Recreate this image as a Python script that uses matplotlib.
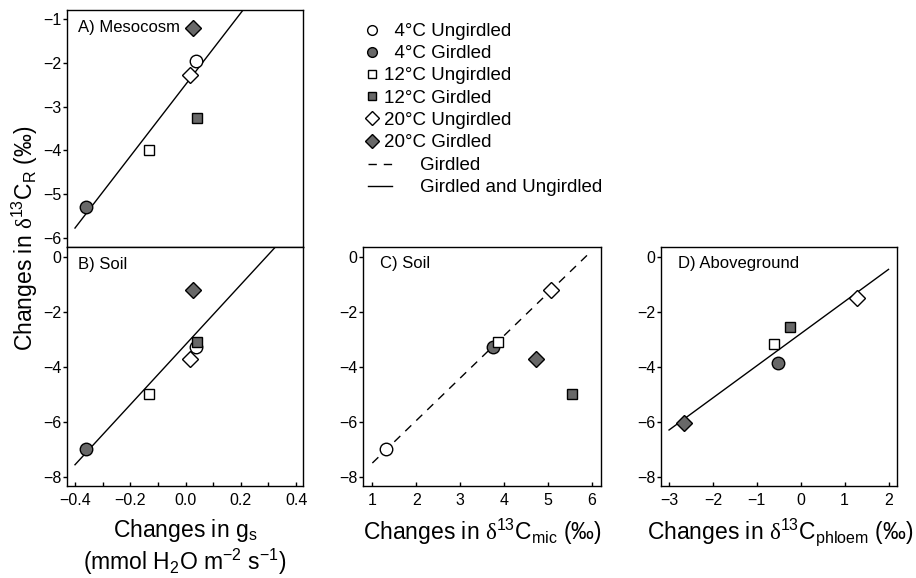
import numpy as np
import matplotlib
matplotlib.use('Agg')
import matplotlib.pyplot as plt
from matplotlib.lines import Line2D
from matplotlib.ticker import MultipleLocator, FuncFormatter

plt.rcParams['font.family'] = ['Liberation Sans', 'DejaVu Sans']
plt.rcParams['mathtext.fontset'] = 'custom'
plt.rcParams['mathtext.rm'] = 'Liberation Sans'
plt.rcParams['mathtext.it'] = 'Liberation Sans:italic'
plt.rcParams['mathtext.sf'] = 'Liberation Serif'

# treatments (same order in every panel)
treatments = ['  4°C Ungirdled', '  4°C Girdled', '12°C Ungirdled', '12°C Girdled',
              '20°C Ungirdled', '20°C Girdled']
markers = ['o', 'o', 's', 's', 'D', 'D']
girdled = [False, True, False, True, False, True]

# A and B: changes in g_s vs changes in d13C_R
gs_change = [0.038, -0.36, -0.131, 0.041, 0.017, 0.026]
dR_meso = [-1.96, -5.28, -3.98, -3.25, -2.28, -1.21]
dR_soil = [-3.30, -7.00, -4.99, -3.09, -3.73, -1.21]

# C: changes in d13C_mic vs changes in d13C_R (soil)
dmic_change = [1.31, 3.76, 3.87, 5.56, 5.06, 4.74]
dR_soil_c = [-7.00, -3.30, -3.09, -4.99, -1.21, -3.73]

# D: changes in d13C_phloem vs changes in d13C_R (aboveground), no 4°C ungirdled
dphloem_change = [np.nan, -0.51, -0.60, -0.24, 1.29, -2.66]
dR_above = [np.nan, -3.85, -3.17, -2.57, -1.51, -6.04]

# regression lines (slope, intercept, x range)
fit_a = (8.17, -2.50, (-0.4, 0.4))
fit_b = (10.92, -3.20, (-0.4, 0.4))
fit_c = (1.544, -9.05, (1.0, 6.0))
fit_d = (1.168, -2.80, (-3.0, 2.0))

GREY = '#686868'
W, H = 916, 578
ms_plot = {'o': 9, 's': 7.3, 'D': 7.8}
ms_leg = {'o': 7, 's': 6, 'D': 7}

fig = plt.figure(figsize=(W / 100, H / 100), dpi=100)


def px_axes(x0, y0, x1, y1):
    return fig.add_axes([x0 / W, 1 - y1 / H, (x1 - x0) / W, (y1 - y0) / H])


def minus(v, pos, fmt='{:g}'):
    return fmt.format(v).replace('-', '\u2212')


axA = px_axes(66.7, 10, 303.3, 247)
axB = px_axes(66.7, 247, 303.3, 485.7)
axC = px_axes(362.7, 247, 601, 485.7)
axD = px_axes(660.7, 247, 897.3, 485.7)


def draw(ax, xs, ys, fit, ls='-'):
    b, a, (x0, x1) = fit
    xl = np.array([x0, x1])
    ax.plot(xl, a + b * xl, color='black', lw=1.0, ls=ls,
            dashes=(6, 5) if ls == '--' else (None, None), zorder=2)
    for x, y, m, g in zip(xs, ys, markers, girdled):
        if np.isnan(x):
            continue
        ax.plot(x, y, marker=m, ms=ms_plot[m], mfc=GREY if g else 'white',
                mec='black', mew=1.0, ls='none', zorder=3)
    for s in ax.spines.values():
        s.set_linewidth(1.0)
    ax.tick_params(axis='y', direction='out', length=3, width=1.0, pad=1, labelsize=11.5)
    ax.tick_params(axis='x', which='both', direction='in', length=3, width=1.0, pad=5,
                   labelsize=11.5, top=False)


draw(axA, gs_change, dR_meso, fit_a)
draw(axB, gs_change, dR_soil, fit_b)
draw(axC, dmic_change, dR_soil_c, fit_c, ls='--')
draw(axD, dphloem_change, dR_above, fit_d)

axA.set_xlim(-0.43, 0.426)
axA.set_ylim(-6.2, -0.8)
axA.set_yticks(np.arange(-6, 0))
axA.tick_params(axis='x', bottom=False, labelbottom=False)

axB.set_xlim(-0.43, 0.426)
axB.set_ylim(-8.33, 0.35)
axB.xaxis.set_major_locator(MultipleLocator(0.2))
axB.xaxis.set_minor_locator(MultipleLocator(0.1))
axB.xaxis.set_major_formatter(FuncFormatter(lambda v, p: minus(round(v, 1) + 0.0, p, '{:.1f}')))

axC.set_xlim(0.78, 6.21)
axC.set_ylim(-8.33, 0.35)
axC.set_xticks(np.arange(1, 7))

axD.set_xlim(-3.19, 2.2)
axD.set_ylim(-8.33, 0.35)
axD.set_xticks(np.arange(-3, 3))

for ax in (axA, axB, axC, axD):
    ax.yaxis.set_major_formatter(FuncFormatter(minus))
for ax in (axB, axC, axD):
    ax.set_yticks(np.arange(-8, 1, 2))
for ax in (axC, axD):
    ax.xaxis.set_major_formatter(FuncFormatter(minus))

axA.text(0.047, 0.928, 'A) Mesocosm', transform=axA.transAxes, fontsize=12, va='center')
axB.text(0.047, 0.928, 'B) Soil', transform=axB.transAxes, fontsize=12, va='center')
axC.text(0.073, 0.93, 'C) Soil', transform=axC.transAxes, fontsize=12, va='center')
axD.text(0.073, 0.93, 'D) Aboveground', transform=axD.transAxes, fontsize=12, va='center')

LBL = 16.5
fig.text(25 / W, 1 - 238 / H, r'Changes in $\mathsf{\delta}^{13}\mathrm{C_R}$ (‰)',
         rotation=90, ha='center', va='center', fontsize=LBL)
fig.text(185 / W, 1 - 531 / H, r'Changes in $\mathrm{g_s}$', ha='center', va='center', fontsize=LBL)
fig.text(185 / W, 1 - 562 / H, r'(mmol H$_2$O m$^{-2}$ s$^{-1}$)', ha='center', va='center',
         fontsize=LBL)
fig.text(482 / W, 1 - 532 / H, r'Changes in $\mathsf{\delta}^{13}\mathrm{C_{mic}}$ (‰)',
         ha='center', va='center', fontsize=LBL)
fig.text(780 / W, 1 - 532 / H, r'Changes in $\mathsf{\delta}^{13}\mathrm{C_{phloem}}$ (‰)',
         ha='center', va='center', fontsize=LBL)

# legend
mk_handles = [Line2D([], [], marker=m, ms=ms_leg[m], mfc=GREY if g else 'white',
                     mec='black', mew=1.0, ls='none')
              for m, g in zip(markers, girdled)]
fig.legend(mk_handles, treatments, loc='upper left',
           bbox_to_anchor=(366 / W, 1 - 23 / H), frameon=False, fontsize=13.5,
           handlelength=0.6, handletextpad=0.35, labelspacing=0.27,
           borderpad=0, borderaxespad=0)
ln_handles = [Line2D([], [], color='black', lw=1.0, ls='--', dashes=(6, 5)),
              Line2D([], [], color='black', lw=1.0)]
fig.legend(ln_handles, ['Girdled', 'Girdled and Ungirdled'], loc='upper left',
           bbox_to_anchor=(368 / W, 1 - 157 / H), frameon=False, fontsize=13.5,
           handlelength=1.3, handletextpad=1.45, labelspacing=0.27,
           borderpad=0, borderaxespad=0)

fig.savefig('out.png', dpi=100)
